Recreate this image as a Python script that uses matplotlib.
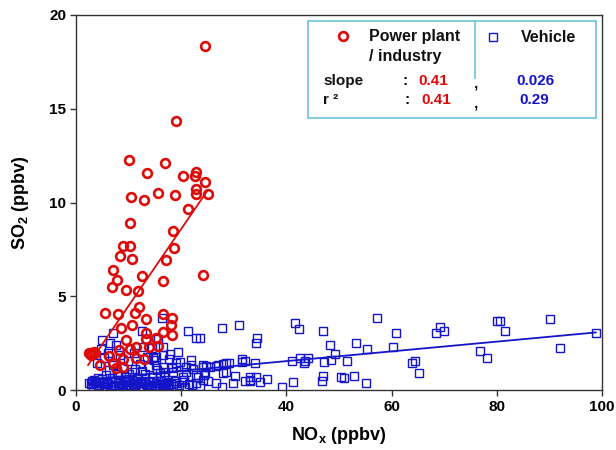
import numpy as np
import matplotlib
matplotlib.use("Agg")
from matplotlib import pyplot as plt
from matplotlib.patches import Rectangle
from matplotlib.lines import Line2D

# Power plant / industry samples (NOx, SO2 in ppbv)
plant_nox = [24.5, 19.0, 10.0, 17.0, 13.5, 20.4, 22.9, 22.7, 24.6, 10.5,
             12.9, 15.6, 18.9, 22.8, 22.8, 25.0, 21.3, 10.3, 18.5, 9.0,
             10.3, 18.6, 8.4, 10.6, 17.1, 7.0, 24.2, 12.6, 7.7, 16.6,
             6.8, 9.6, 11.7, 12.0, 5.6, 7.9, 11.2, 13.4, 16.5, 18.3,
             10.6, 8.6, 18.0, 16.6, 18.3, 13.3, 9.5, 13.4, 15.3, 13.8,
             15.5, 8.2, 10.3, 11.4, 6.3, 9.0, 11.5, 12.9, 7.0, 4.6,
             7.6, 9.0, 2.5, 2.8, 3.1, 3.4, 3.7, 2.9]
plant_so2 = [18.35, 14.35, 12.25, 12.1, 11.55, 11.41, 11.64, 11.41, 11.09, 10.31,
             10.13, 10.5, 10.42, 10.72, 10.43, 10.45, 9.65, 8.92, 8.5, 7.7,
             7.7, 7.6, 7.15, 6.97, 6.92, 6.38, 6.15, 6.1, 5.85, 5.8,
             5.47, 5.33, 5.3, 4.44, 4.12, 4.03, 4.09, 3.77, 4.03, 3.86,
             3.45, 3.29, 3.47, 3.11, 2.93, 3.02, 2.67, 2.7, 2.75, 2.27,
             2.35, 2.13, 2.17, 2.27, 1.81, 1.63, 1.69, 1.63, 1.42, 1.33,
             1.19, 1.21, 1.95, 2.0, 1.9, 2.02, 1.96, 1.85]

# Vehicle samples (NOx, SO2 in ppbv)
veh_nox = [41.6, 42.4, 47.0, 57.2, 60.8, 69.2, 68.4, 70.0, 80.1, 80.7,
           81.6, 90.2, 98.8, 92.0, 76.8, 78.1, 48.2, 53.2, 55.4, 60.2,
           49.2, 48.5, 34.2, 34.5, 34.0, 41.1, 42.6, 43.3, 44.2, 43.5,
           47.1, 51.6, 63.8, 64.4, 65.2, 34.2, 35.0, 36.3, 39.1, 41.2,
           46.7, 47.0, 50.3, 50.9, 52.9, 55.1, 33.0, 33.0, 27.7, 30.9,
           23.6, 24.8, 26.7, 27.9, 29.0, 31.5, 32.1, 24.5, 28.0, 28.6,
           30.2, 32.1, 33.1, 24.2, 25.1, 26.7, 27.7, 29.9, 21.3, 22.9,
           12.5, 7.1, 4.9, 6.5, 15.6, 16.3, 12.8, 14.4, 15.3, 16.6,
           19.1, 21.0, 24.2, 25.5, 27.0, 28.6, 31.5, 16.5, 17.7, 19.0,
           21.9, 24.1, 16.5, 14.6, 15.2, 22.8, 20.3, 18.4, 16.8, 24.4,
           2.8, 3.3, 3.6, 4.1, 4.4, 4.9, 5.2, 5.6, 6.1, 6.4,
           6.8, 7.2, 7.5, 7.9, 8.3, 8.6, 9.0, 9.4, 9.7, 10.1,
           10.5, 10.8, 11.2, 11.6, 11.9, 12.3, 12.7, 13.0, 13.4, 13.8,
           14.1, 14.5, 14.9, 15.3, 15.6, 16.0, 16.4, 16.8, 17.2, 17.6,
           3.0, 3.8, 4.6, 5.4, 5.9, 6.6, 7.4, 8.1, 8.8, 9.2,
           9.9, 10.3, 11.0, 11.4, 12.1, 12.5, 13.2, 13.6, 14.3, 14.7,
           15.1, 15.8, 16.2, 16.6, 17.0, 17.4, 18.0, 18.5, 19.1, 19.6,
           20.2, 20.8, 21.5, 22.1, 22.9, 23.6, 18.8, 20.5, 3.5, 5.0,
           4.2, 5.7, 6.9, 8.0, 9.5, 10.6, 11.8, 13.1, 14.4, 15.9,
           6.2, 7.7, 8.9, 10.0, 11.3, 12.6, 13.9, 15.4, 16.9, 18.2,
           4.0, 5.3, 7.0, 8.4, 9.8, 11.1, 12.2, 13.5, 14.8, 17.8,
           19.7, 20.9, 22.3, 23.2, 21.8, 19.3, 4.7, 6.0, 7.6, 2.5]
veh_so2 = [3.59, 3.23, 3.16, 3.82, 3.02, 3.38, 3.02, 3.13, 3.66, 3.66,
           3.13, 3.79, 3.06, 2.22, 2.06, 1.72, 2.42, 2.52, 2.19, 2.27,
           1.92, 1.6, 2.49, 2.79, 1.46, 1.53, 1.69, 1.42, 1.69, 1.55,
           1.49, 1.53, 1.42, 1.56, 0.92, 0.68, 0.44, 0.57, 0.18, 0.44,
           0.5, 0.75, 0.68, 0.64, 0.75, 0.36, 0.5, 0.7, 3.29, 3.47,
           2.79, 1.28, 1.28, 1.39, 1.46, 1.63, 1.55, 0.92, 0.92, 0.98,
           0.75, 0.5, 0.53, 0.53, 0.48, 0.36, 0.14, 0.39, 3.16, 2.75,
           3.16, 3.06, 2.67, 2.52, 2.7, 3.82, 2.31, 2.22, 1.78, 1.87,
           1.24, 1.24, 1.33, 1.24, 1.33, 1.42, 1.51, 2.27, 1.63, 1.46,
           1.33, 1.24, 1.24, 1.69, 1.33, 0.8, 0.71, 0.98, 0.71, 0.8,
           0.32, 0.21, 0.41, 0.28, 0.17, 0.36, 0.45, 0.24, 0.31, 0.15,
           0.42, 0.27, 0.19, 0.38, 0.47, 0.22, 0.33, 0.14, 0.44, 0.29,
           0.18, 0.39, 0.26, 0.48, 0.16, 0.35, 0.23, 0.43, 0.30, 0.20,
           0.41, 0.27, 0.17, 0.37, 0.46, 0.24, 0.34, 0.15, 0.40, 0.28,
           0.46, 0.35, 0.43, 0.19, 0.49, 0.18, 0.44, 0.25, 0.16, 0.47,
           0.21, 0.49, 0.12, 0.33, 0.45, 0.13, 0.50, 0.17, 0.22, 0.48,
           0.13, 0.20, 0.49, 0.29, 0.22, 0.45, 0.31, 0.19, 0.38, 0.25,
           0.42, 0.18, 0.33, 0.27, 0.40, 0.21, 0.50, 0.55, 0.55, 0.58,
           0.65, 0.78, 0.62, 0.88, 0.70, 0.95, 0.66, 0.84, 0.72, 0.92,
           1.05, 0.96, 1.18, 0.85, 1.10, 1.02, 1.22, 1.08, 0.98, 1.15,
           1.45, 1.70, 1.35, 1.85, 1.55, 1.95, 1.40, 1.75, 1.60, 1.90,
           1.50, 0.95, 1.10, 0.70, 1.60, 2.05, 2.20, 2.00, 2.40, 0.40]

# regression lines as printed on the chart
plant_fit = (0.41, 0.39)
veh_fit = (0.026, 0.50)
plant_slope_txt, plant_r2_txt = "0.41", "0.41"
veh_slope_txt, veh_r2_txt = "0.026", "0.29"

RED = '#dd0a0a'
BLUE = '#1414c8'
FRAME = '#333333'

plt.rcParams['font.family'] = ['Liberation Sans', 'DejaVu Sans']
plt.rcParams['font.weight'] = 'bold'

CIRCLE = dict(marker='o', markersize=6.3, markerfacecolor='none',
              markeredgecolor=RED, markeredgewidth=1.9, linestyle='none')
SQUARE = dict(marker='s', markersize=6.4, markerfacecolor='none',
              markeredgecolor=BLUE, markeredgewidth=1.0, linestyle='none')


def fig_xy(px, py):
    return px / 616, 1 - py / 450


def main():
    fig = plt.figure(figsize=(6.16, 4.5), dpi=100)
    ax = fig.add_axes([76 / 616, 60 / 450, 526 / 616, 375 / 450])

    ax.plot(veh_nox, veh_so2, zorder=2, **SQUARE)
    xv = np.array([min(veh_nox), max(veh_nox)])
    ax.plot(xv, veh_fit[0] * xv + veh_fit[1], color=BLUE, lw=1.3, zorder=3)

    ax.plot(plant_nox, plant_so2, zorder=4, **CIRCLE)
    xp = np.array([2.3, max(plant_nox)])
    ax.plot(xp, plant_fit[0] * xp + plant_fit[1], color=RED, lw=1.3, zorder=5)

    ax.set_xlim(0, 100)
    ax.set_ylim(0, 20)
    ax.set_xticks([0, 20, 40, 60, 80, 100])
    ax.set_yticks([0, 5, 10, 15, 20])
    for s in ax.spines.values():
        s.set_color(FRAME)
        s.set_linewidth(1.0)
    ax.tick_params(direction='out', length=4, width=1.0, color=FRAME,
                   labelsize=11, pad=3)

    ax.set_xlabel('NO$_\\mathregular{x}$ (ppbv)', fontsize=13, fontweight='bold', labelpad=8)
    ax.set_ylabel('SO$_\\mathregular{2}$ (ppbv)', fontsize=13, fontweight='bold', labelpad=13)

    # legend-like info box
    x0, y0 = fig_xy(308, 118)
    x1, y1 = fig_xy(596, 21)
    fig.add_artist(Rectangle((x0, y0), x1 - x0, y1 - y0, transform=fig.transFigure,
                             facecolor='white', edgecolor='#6cc4da', lw=1.2, zorder=10))
    dx, dtop = fig_xy(475, 21)
    _, dbot = fig_xy(475, 78)
    fig.add_artist(Line2D([dx, dx], [dtop, dbot], transform=fig.transFigure,
                          color='#6cc4da', lw=1.2, zorder=11))

    mx, my = fig_xy(343, 36)
    fig.add_artist(Line2D([mx], [my], transform=fig.transFigure, zorder=11, **CIRCLE))
    mx, my = fig_xy(493, 37)
    fig.add_artist(Line2D([mx], [my], transform=fig.transFigure, zorder=11, **SQUARE))

    def put(px, py, s, color='#111111', size=11):
        x, y = fig_xy(px, py)
        fig.text(x, y, s, color=color, fontsize=size, fontweight='bold',
                 ha='left', va='center', zorder=12)

    put(369, 36, 'Power plant', size=11.5)
    put(369, 57, '/ industry', size=11.5)
    put(521, 37, 'Vehicle', size=11.5)
    put(323, 81, 'slope')
    put(323, 100, 'r ²')
    put(402, 81, ':')
    put(404, 100, ':')
    put(418, 81, plant_slope_txt, RED)
    put(421, 100, plant_r2_txt, RED)
    put(474, 84, ',')
    put(474, 103, ',')
    put(516, 81, veh_slope_txt, BLUE)
    put(519, 100, veh_r2_txt, BLUE)

    fig.savefig('out.png', dpi=100)


if __name__ == '__main__':
    main()
